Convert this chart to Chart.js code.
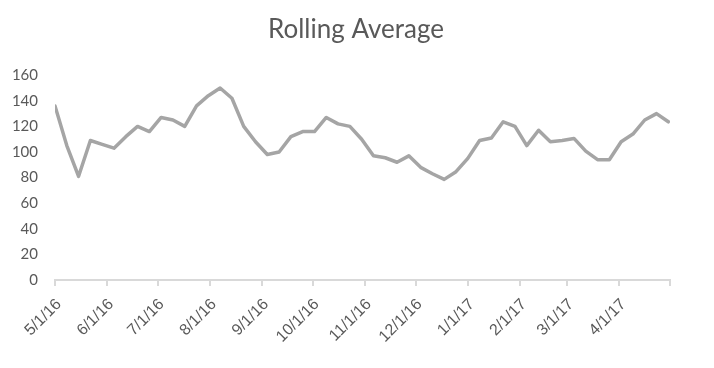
<!DOCTYPE html>
<html>
<head>
<meta charset="utf-8">
<script src="https://cdn.jsdelivr.net/npm/chart.js@4/dist/chart.umd.min.js"></script>
<style>
  html, body { margin: 0; padding: 0; background: #fff; }
  #wrap { width: 714px; height: 368px; }
</style>
</head>
<body>
<div id="wrap"><canvas id="grafic"></canvas></div>
<script>
// weekly dates (M/D/YY)
const dates = [
  '5/1/16', '5/8/16', '5/15/16', '5/22/16', '5/29/16',
  '6/5/16', '6/12/16', '6/19/16', '6/26/16',
  '7/3/16', '7/10/16', '7/17/16', '7/24/16', '7/31/16',
  '8/7/16', '8/14/16', '8/21/16', '8/28/16',
  '9/4/16', '9/11/16', '9/18/16', '9/25/16',
  '10/2/16', '10/9/16', '10/16/16', '10/23/16', '10/30/16',
  '11/6/16', '11/13/16', '11/20/16', '11/27/16',
  '12/4/16', '12/11/16', '12/18/16', '12/25/16',
  '1/1/17', '1/8/17', '1/15/17', '1/22/17', '1/29/17',
  '2/5/17', '2/12/17', '2/19/17', '2/26/17',
  '3/5/17', '3/12/17', '3/19/17', '3/26/17',
  '4/2/17', '4/9/17', '4/16/17', '4/23/17', '4/30/17'
];
const rollingAvg = [
  136, 105, 81, 109, 106,
  103, 112, 120, 116,
  127, 125, 120, 136, 144,
  150, 142, 120, 108,
  98, 100, 112, 116,
  116, 127, 122, 120, 110,
  97, 95.5, 92, 97,
  88, 83, 78.6, 84.6,
  95, 109, 111, 123.6, 120,
  105, 117, 108, 109,
  110.6, 100.7, 94, 94,
  108, 114, 125, 130, 123.6
];
const monthTicks = ['5/1/16', '6/1/16', '7/1/16', '8/1/16', '9/1/16', '10/1/16',
  '11/1/16', '12/1/16', '1/1/17', '2/1/17', '3/1/17', '4/1/17'];
const axisEnd = '5/1/17';
const yTicks = [0, 20, 40, 60, 80, 100, 120, 140, 160];

function parseData(s) {
  const [m, d, y] = s.split('/').map(Number);
  return Date.UTC(2000 + y, m - 1, d);
}
const start = parseData(dates[0]);
const zi = s => Math.round((parseData(s) - start) / 86400000);

const puncte = dates.map((d, i) => ({ x: zi(d), y: rollingAvg[i] }));
const tickVals = monthTicks.map(zi).concat([zi(axisEnd)]);
const tickLabels = monthTicks.concat(['']);

const gri = '#595959';

new Chart(document.getElementById('grafic'), {
  type: 'line',
  data: {
    datasets: [{
      label: 'Rolling Average',
      data: puncte,
      borderColor: '#a5a5a5',
      borderWidth: 3.5,
      borderJoinStyle: 'round',
      borderCapStyle: 'round',
      pointRadius: 0,
      tension: 0,
      fill: false
    }]
  },
  options: {
    responsive: true,
    maintainAspectRatio: false,
    animation: false,
    layout: { padding: { left: 0, right: 2, top: 0, bottom: 0 } },
    plugins: {
      legend: { display: false },
      tooltip: { enabled: false },
      title: {
        display: true,
        text: 'Rolling Average',
        color: gri,
        font: { family: 'Lato', size: 26, weight: 'normal' },
        padding: { top: 14, bottom: 30 }
      }
    },
    scales: {
      x: {
        type: 'linear',
        min: 0,
        max: zi(axisEnd),
        afterBuildTicks: scale => { scale.ticks = tickVals.map(v => ({ value: v })); },
        afterFit: scale => { scale.height = 88; },
        border: { display: true, color: '#d9d9d9', width: 2 },
        grid: { display: true, drawOnChartArea: false, drawTicks: true, tickLength: 6, color: '#d9d9d9', lineWidth: 2 },
        ticks: {
          autoSkip: false,
          minRotation: 45,
          maxRotation: 45,
          color: gri,
          padding: 9,
          labelOffset: 4,
          font: { family: 'Liberation Sans', size: 16 },
          callback: (v, i) => tickLabels[i]
        }
      },
      y: {
        min: 0,
        max: 160,
        afterBuildTicks: scale => { scale.ticks = yTicks.map(v => ({ value: v })); },
        afterFit: scale => { scale.width = 55; },
        border: { display: false },
        grid: { display: false },
        ticks: {
          color: gri,
          padding: 9,
          font: { family: 'Lato', size: 15 }
        }
      },
      // empty right-hand spacer so the title centres like the reference
      spacer: {
        position: 'right',
        min: 0,
        max: 160,
        afterFit: scale => { scale.width = 42; },
        border: { display: false },
        grid: { display: false },
        ticks: { display: false }
      }
    }
  }
});
</script>
</body>
</html>
